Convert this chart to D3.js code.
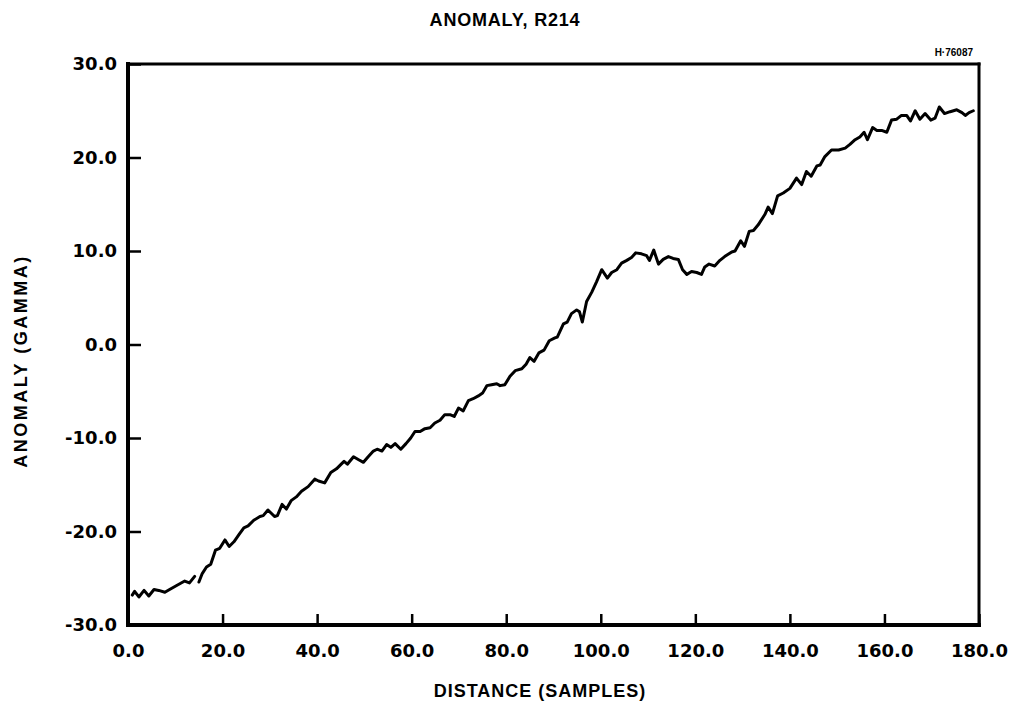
<!DOCTYPE html>
<html>
<head>
<meta charset="utf-8">
<script src="https://cdn.jsdelivr.net/npm/d3@7"></script>
<style>
  html, body { margin: 0; padding: 0; background: #fff; }
  svg { display: block; }
</style>
</head>
<body>
<svg id="chart" width="1010" height="711"></svg>
<script>
// Distance along the profile (samples) and the measured anomaly (gamma).
// A null anomaly marks the short break in the trace near sample 15.
const distance = [
  0.9, 1.4, 2.3, 3.4, 4.4, 5.5, 6.5, 7.8, 8.8, 10.2, 12.0, 13.0, 14.1, 14.6,
  15.0, 15.7, 16.6, 17.5, 18.5, 19.4, 20.5, 21.4, 22.4, 23.5, 24.5, 25.4, 26.6,
  27.9, 28.6, 29.6, 31.0, 31.6, 32.6, 33.5, 34.5, 35.6, 36.7, 38.1, 39.5, 40.3,
  41.6, 42.9, 44.1, 45.1, 45.7, 46.4, 47.7, 48.7, 49.8, 50.8, 51.9, 52.7, 53.7,
  54.7, 55.6, 56.5, 57.7, 58.8, 59.8, 60.7, 61.8, 62.8, 63.9, 64.9, 66.0, 67.0,
  68.1, 69.0, 69.9, 70.9, 72.0, 73.0, 74.1, 75.0, 75.9, 76.9, 78.0, 78.7, 79.7,
  80.8, 81.9, 83.3, 84.2, 85.0, 85.9, 86.9, 88.0, 89.1, 90.3, 90.8, 92.1, 92.9,
  93.8, 94.9, 95.5, 96.1, 97.0, 98.1, 99.1, 100.2, 101.4, 102.3, 103.4, 104.4,
  105.5, 106.5, 107.4, 108.6, 109.7, 110.3, 111.2, 112.2, 113.2, 114.3, 115.3,
  116.4, 117.3, 118.2, 119.2, 120.3, 121.3, 122.0, 122.9, 124.1, 125.2, 126.2,
  127.7, 128.4, 129.6, 130.4, 131.4, 132.3, 133.3, 134.7, 135.4, 136.3, 137.4,
  138.6, 140.0, 141.4, 142.5, 143.5, 144.5, 145.7, 146.4, 147.4, 148.8, 150.3,
  151.7, 152.7, 153.8, 154.8, 155.7, 156.4, 157.5, 158.4, 159.4, 160.5, 161.5,
  162.6, 163.6, 164.7, 165.5, 166.5, 167.5, 168.6, 169.8, 170.7, 171.6, 172.7,
  173.9, 175.3, 176.4, 177.1, 177.9, 178.8
];
const anomaly = [
  -26.8, -26.4, -27.0, -26.3, -26.9, -26.2, -26.3, -26.5, -26.2, -25.8, -25.3, -25.5, -24.8, null,
  -25.4, -24.5, -23.8, -23.5, -22.0, -21.8, -20.9, -21.6, -21.1, -20.3, -19.6, -19.4, -18.8,
  -18.4, -18.3, -17.7, -18.4, -18.3, -17.1, -17.6, -16.7, -16.3, -15.7, -15.2, -14.4, -14.6,
  -14.8, -13.7, -13.3, -12.8, -12.5, -12.8, -12.0, -12.3, -12.6, -12.0, -11.4, -11.2, -11.4,
  -10.7, -11.0, -10.6, -11.2, -10.6, -10.0, -9.3, -9.3, -9.0, -8.9, -8.4, -8.1, -7.5,
  -7.5, -7.7, -6.8, -7.1, -6.0, -5.8, -5.5, -5.2, -4.4, -4.3, -4.2, -4.4, -4.3,
  -3.4, -2.8, -2.6, -2.1, -1.4, -1.8, -0.9, -0.6, 0.4, 0.7, 0.8, 2.2, 2.4,
  3.3, 3.7, 3.5, 2.4, 4.6, 5.6, 6.7, 8.0, 7.1, 7.7, 8.0, 8.7,
  9.0, 9.3, 9.8, 9.7, 9.5, 9.0, 10.1, 8.6, 9.1, 9.4, 9.2,
  9.1, 8.0, 7.5, 7.8, 7.7, 7.5, 8.3, 8.6, 8.4, 9.0, 9.4,
  9.9, 10.0, 11.1, 10.5, 12.1, 12.2, 12.8, 13.9, 14.7, 14.0, 15.9,
  16.2, 16.7, 17.8, 17.1, 18.5, 18.0, 19.1, 19.2, 20.1, 20.8, 20.8,
  21.0, 21.4, 21.9, 22.2, 22.7, 21.9, 23.2, 22.9, 22.9, 22.7, 24.0,
  24.1, 24.5, 24.5, 23.9, 25.0, 24.1, 24.7, 24.0, 24.2, 25.4, 24.7,
  24.9, 25.1, 24.8, 24.5, 24.8, 25.0
];

const xTicks = [0, 20, 40, 60, 80, 100, 120, 140, 160, 180];
const yTicks = [-30, -20, -10, 0, 10, 20, 30];

const titleText = "ANOMALY, R214";
const figureId = "H·76087";
const xTitle = "DISTANCE (SAMPLES)";
const yTitle = "ANOMALY (GAMMA)";

const svg = d3.select("#chart");
const plot = { left: 128, right: 979, top: 64, bottom: 625 };

const x = d3.scaleLinear().domain([0, 180]).range([plot.left, plot.right]);
const y = d3.scaleLinear().domain([-30, 30]).range([plot.bottom, plot.top]);

const tickFont = "'DejaVu Sans', sans-serif";
const labelFont = "'Liberation Sans', Arial, sans-serif";

// Plain hyphen for negative values, one decimal place
const fmt = d => d.toFixed(1);

// Left axis: ticks point into the plot, labels to the left
const yAxis = svg.append("g")
  .attr("transform", `translate(${plot.left},0)`)
  .call(d3.axisLeft(y).tickValues(yTicks).tickSize(-13).tickPadding(11).tickFormat(fmt));
yAxis.select(".domain").remove();
yAxis.selectAll(".tick line").attr("stroke", "#000").attr("stroke-width", 2.5);
yAxis.selectAll(".tick text")
  .attr("font-family", tickFont).attr("font-weight", "bold")
  .attr("font-size", 18).attr("fill", "#000");

// Bottom axis: ticks point up into the plot
const xAxis = svg.append("g")
  .attr("transform", `translate(0,${plot.bottom})`)
  .call(d3.axisBottom(x).tickValues(xTicks).tickSize(-11).tickPadding(19).tickFormat(fmt));
xAxis.select(".domain").remove();
xAxis.selectAll(".tick line").attr("stroke", "#000").attr("stroke-width", 2.5);
xAxis.selectAll(".tick text")
  .attr("font-family", tickFont).attr("font-weight", "bold")
  .attr("font-size", 18).attr("fill", "#000");

// Plot frame
const frame = svg.append("g").attr("stroke", "#000").attr("stroke-linecap", "square");
frame.append("line").attr("x1", plot.left).attr("x2", plot.right)
  .attr("y1", plot.top).attr("y2", plot.top).attr("stroke-width", 3);
frame.append("line").attr("x1", plot.right).attr("x2", plot.right)
  .attr("y1", plot.top).attr("y2", plot.bottom).attr("stroke-width", 3);
frame.append("line").attr("x1", plot.left).attr("x2", plot.right)
  .attr("y1", plot.bottom).attr("y2", plot.bottom).attr("stroke-width", 4);
frame.append("line").attr("x1", plot.left).attr("x2", plot.left)
  .attr("y1", plot.top).attr("y2", plot.bottom).attr("stroke-width", 4);

// Anomaly trace
const points = distance.map((d, i) => ({ d, v: anomaly[i] }));
const line = d3.line()
  .defined(p => p.v !== null)
  .x(p => x(p.d))
  .y(p => y(p.v));
svg.append("path")
  .datum(points)
  .attr("d", line)
  .attr("fill", "none")
  .attr("stroke", "#000")
  .attr("stroke-width", 3)
  .attr("stroke-linejoin", "round")
  .attr("stroke-linecap", "round");

// Titles
svg.append("text")
  .attr("x", 505).attr("y", 26)
  .attr("text-anchor", "middle")
  .attr("font-family", labelFont).attr("font-weight", "bold")
  .attr("font-size", 18).attr("letter-spacing", 0.8)
  .text(titleText);

svg.append("text")
  .attr("x", 973).attr("y", 56)
  .attr("text-anchor", "end")
  .attr("font-family", labelFont).attr("font-weight", "bold")
  .attr("font-size", 10)
  .text(figureId);

svg.append("text")
  .attr("x", 540).attr("y", 697)
  .attr("text-anchor", "middle")
  .attr("font-family", labelFont).attr("font-weight", "bold")
  .attr("font-size", 18).attr("letter-spacing", 1)
  .text(xTitle);

svg.append("text")
  .attr("transform", "translate(27,361) rotate(-90)")
  .attr("text-anchor", "middle")
  .attr("font-family", labelFont).attr("font-weight", "bold")
  .attr("font-size", 18).attr("letter-spacing", 2.5)
  .text(yTitle);
</script>
</body>
</html>
